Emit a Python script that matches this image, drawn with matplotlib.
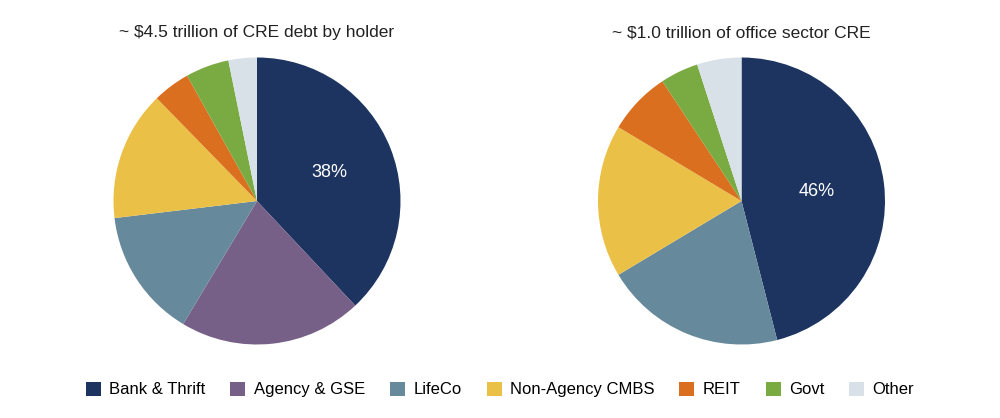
import matplotlib
matplotlib.use("Agg")
import matplotlib.pyplot as plt
from matplotlib.patches import Patch
import numpy as np

plt.rcParams['font.family'] = ['Liberation Sans', 'DejaVu Sans']

categories = ["Bank & Thrift", "Agency & GSE", "LifeCo", "Non-Agency CMBS", "REIT", "Govt", "Other"]
colors = ["#1d3461", "#776087", "#67899c", "#ebc046", "#d96f1f", "#7aab42", "#d9e1e8"]

left_title = "~ $4.5 trillion of CRE debt by holder"
left_values = [38, 20.6, 14.5, 14.6, 4.2, 4.9, 3.2]

right_title = "~ $1.0 trillion of office sector CRE"
right_values = [46, 0, 20.4, 17.2, 7.1, 4.3, 5.0]

fig = plt.figure(figsize=(10, 4.18), dpi=100)

def draw(ax, values, title, label_text, r):
    vals = [v for v in values if v > 0]
    cols = [c for v, c in zip(values, colors) if v > 0]
    ax.pie(vals, colors=cols, startangle=90, counterclock=False,
           radius=1.0, wedgeprops=dict(linewidth=0))
    total = sum(vals)
    mid = 90 - 360 * vals[0] / total / 2
    ax.text(r * np.cos(np.radians(mid)), r * np.sin(np.radians(mid)), label_text,
            color="white", fontsize=13, ha="center", va="center")
    ax.set_xlim(-1, 1)
    ax.set_ylim(-1, 1)
    ax.set_aspect("equal")
    ax.axis("off")
    ax.text(0, 1.12, title, ha="center", va="bottom", fontsize=12.5, color="#222222",
            transform=ax.transData)

r_px = 143.5
ax1 = fig.add_axes([(257 - r_px) / 1000, (418 - 201 - r_px) / 418, 2 * r_px / 1000, 2 * r_px / 418])
ax2 = fig.add_axes([(741.5 - r_px) / 1000, (418 - 201 - r_px) / 418, 2 * r_px / 1000, 2 * r_px / 418])

draw(ax1, left_values, left_title, "38%", 0.54)
draw(ax2, right_values, right_title, "46%", 0.53)

handles = [Patch(facecolor=c, edgecolor="none") for c in colors]
fig.legend(handles, categories, loc="center", bbox_to_anchor=(0.5, 1 - 389.5 / 418), ncol=7,
           frameon=False, fontsize=12, handlelength=0.9, handleheight=0.9,
           handletextpad=0.5, columnspacing=1.5, borderaxespad=0)

fig.savefig("out.png", dpi=100)
